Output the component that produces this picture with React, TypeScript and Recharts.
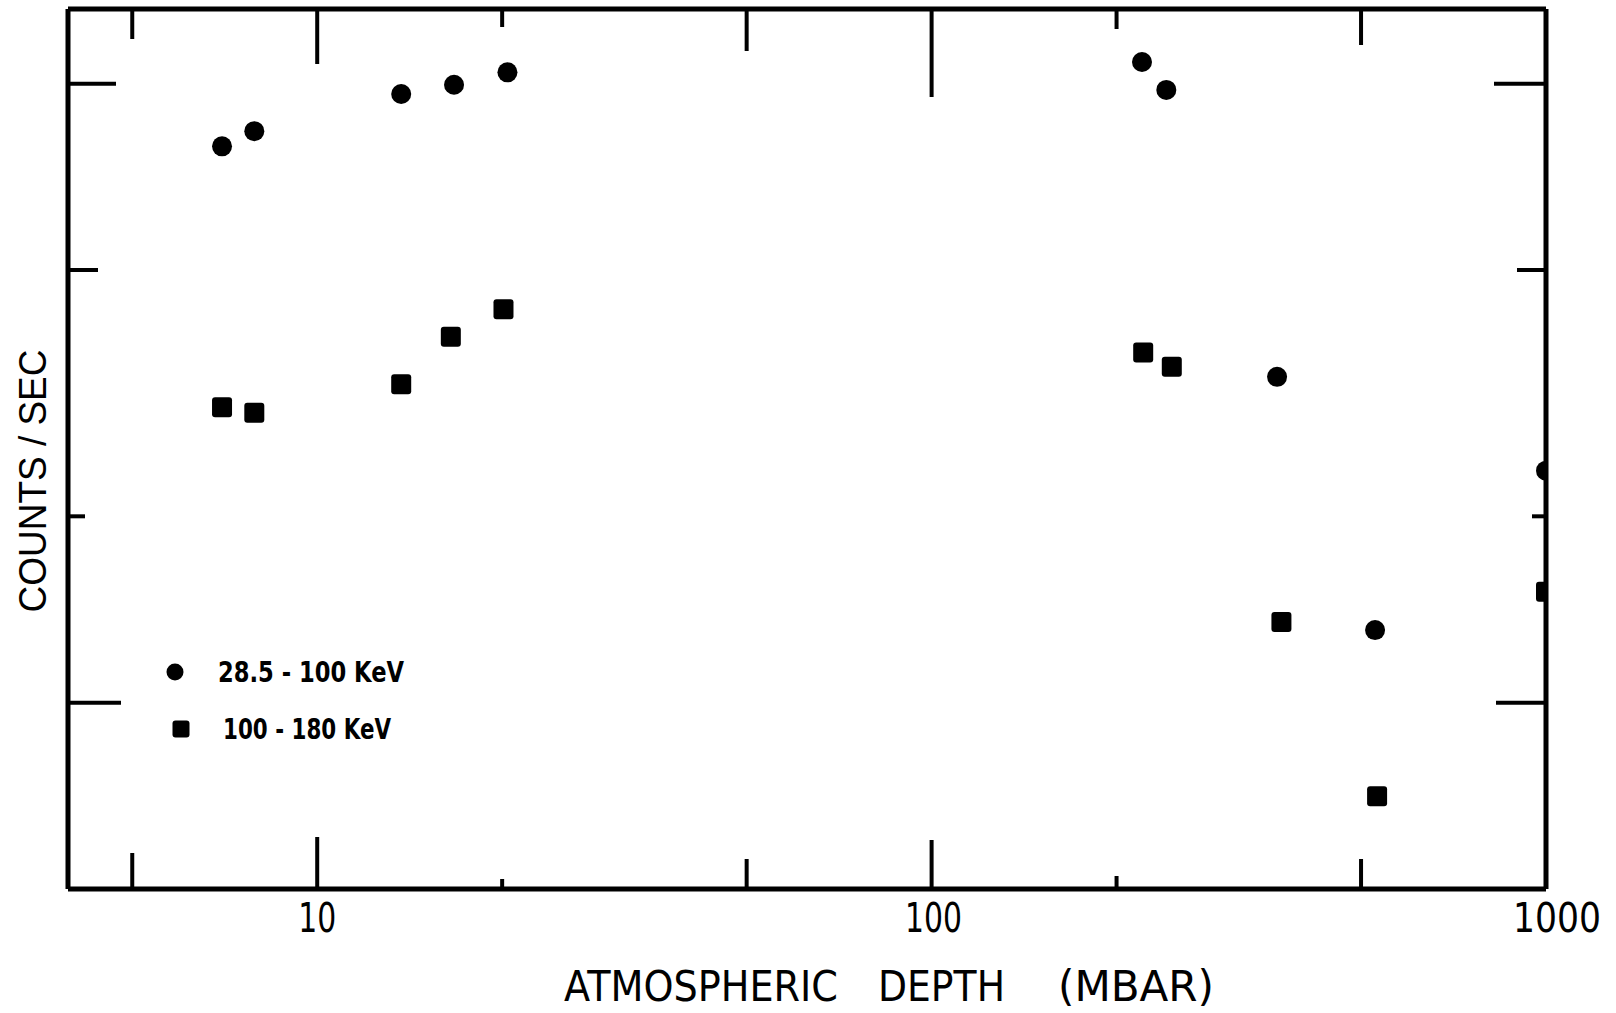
import React from 'react';
import { ScatterChart, Scatter, XAxis, YAxis, Legend } from 'recharts';

// ---- data ----
const LOW_BAND_DEPTH = [7.0, 7.9, 13.7, 16.7, 20.4, 220, 241, 365, 527, 1000];
const LOW_BAND_RATE = [79.2, 83.8, 96.2, 99.6, 104.3, 108.4, 97.7, 33.6, 13.1, 23.7];
const HIGH_BAND_DEPTH = [7.0, 7.9, 13.7, 16.5, 20.1, 221, 246, 371, 531, 1000];
const HIGH_BAND_RATE = [30.0, 29.4, 32.7, 39.0, 43.2, 36.8, 34.9, 13.5, 7.06, 15.1];
const SERIES_NAMES = ['28.5 - 100 KeV', '100 - 180 KeV'];
const X_TICKS = [5, 10, 20, 50, 100, 200, 500, 1000];
const X_TICK_LABELS: Record<number, string> = { 10: '10', 100: '100', 1000: '1000' };
const Y_TICKS = [10, 20, 50, 100];
const X_TITLE = ['ATMOSPHERIC', 'DEPTH', '(MBAR)'];
const Y_TITLE = 'COUNTS / SEC';

const X_DOMAIN: [number, number] = [3.93, 1000];
const Y_DOMAIN: [number, number] = [5, 132];

// ---- styling ----
const BOTTOM_LEN: Record<number, number> = { 5: 36, 10: 52, 20: 10, 50: 30, 100: 49, 200: 13, 500: 30 };
const TOP_LEN: Record<number, number> = { 5: 30, 10: 55, 20: 18, 50: 42, 100: 88, 200: 20, 500: 36 };
const LEFT_LEN: Record<number, number> = { 10: 53, 20: 17, 50: 30, 100: 48 };
const RIGHT_LEN: Record<number, number> = { 10: 50, 20: 14, 50: 29, 100: 52 };
const LABEL_WIDTH: Record<number, number> = { 10: 38, 100: 57, 1000: 88 };
const LABEL_DX: Record<number, number> = { 10: 0, 100: 2, 1000: 11 };

const lowData = LOW_BAND_DEPTH.map((d, i) => ({ depth: d, rate: LOW_BAND_RATE[i] }));
const highData = HIGH_BAND_DEPTH.map((d, i) => ({ depth: d, rate: HIGH_BAND_RATE[i] }));

const INK = '#000';
const TW = 4;

function BottomTick(props: any) {
  const { x, y, payload } = props;
  const v = payload.value;
  const len = BOTTOM_LEN[v] || 0;
  const lab = X_TICK_LABELS[v];
  return (
    <g>
      {len > 0 && <line x1={x} y1={y} x2={x} y2={y - len} stroke={INK} strokeWidth={TW} />}
      {lab && (
        <text
          x={x + (LABEL_DX[v] || 0)}
          y={y + 43}
          textAnchor="middle"
          fontFamily="DejaVu Sans"
          fontSize={40}
          fill={INK}
          textLength={LABEL_WIDTH[v]}
          lengthAdjust="spacingAndGlyphs"
        >
          {lab}
        </text>
      )}
    </g>
  );
}

function TopTick(props: any) {
  const { x, y, payload } = props;
  const len = TOP_LEN[payload.value] || 0;
  return <g>{len > 0 && <line x1={x} y1={y} x2={x} y2={y + len} stroke={INK} strokeWidth={TW} />}</g>;
}

function LeftTick(props: any) {
  const { x, y, payload } = props;
  const len = LEFT_LEN[payload.value] || 0;
  return <g>{len > 0 && <line x1={x} y1={y} x2={x + len} y2={y} stroke={INK} strokeWidth={TW} />}</g>;
}

function RightTick(props: any) {
  const { x, y, payload } = props;
  const len = RIGHT_LEN[payload.value] || 0;
  return <g>{len > 0 && <line x1={x} y1={y} x2={x - len} y2={y} stroke={INK} strokeWidth={TW} />}</g>;
}

const CircleMark = (p: any) => <circle cx={p.cx} cy={p.cy} r={10} fill={INK} />;
const SquareMark = (p: any) => (
  <rect x={p.cx - 10} y={p.cy - 10} width={20} height={20} rx={3} fill={INK} />
);

function XTitle() {
  const parts = [
    { x: 564, w: 274 },
    { x: 878, w: 127 },
    { x: 1058, w: 156 },
  ];
  return (
    <g>
      {X_TITLE.map((t, i) => (
        <text
          key={t}
          x={parts[i].x}
          y={1001}
          fontFamily="DejaVu Sans"
          fontSize={42}
          fill={INK}
          textLength={parts[i].w}
          lengthAdjust="spacingAndGlyphs"
        >
          {t}
        </text>
      ))}
    </g>
  );
}

function YTitle() {
  return (
    <text
      x={46}
      y={481}
      transform="rotate(-90, 46, 481)"
      textAnchor="middle"
      fontFamily="Liberation Sans"
      fontSize={39}
      fill={INK}
      textLength={263}
      lengthAdjust="spacingAndGlyphs"
    >
      {Y_TITLE}
    </text>
  );
}

function renderLegend(props: any) {
  const items = [...(props.payload || [])].sort(
    (a: any, b: any) => SERIES_NAMES.indexOf(a.value) - SERIES_NAMES.indexOf(b.value)
  );
  const rows = [
    { my: 32, tx: 68, ty: 42, tw: 186, mx: 25 },
    { my: 89, tx: 73, ty: 99, tw: 168, mx: 31 },
  ];
  return (
    <svg width={280} height={110} style={{ display: 'block', overflow: 'visible' }}>
      {items.map((it: any, i: number) => {
        const r = rows[i] || rows[0];
        return (
          <g key={i}>
            {it.type === 'square' ? (
              <rect x={r.mx - 8.5} y={r.my - 8.5} width={17} height={17} rx={3} fill={INK} />
            ) : (
              <circle cx={r.mx} cy={r.my} r={8.5} fill={INK} />
            )}
            <text
              x={r.tx}
              y={r.ty}
              fontFamily="DejaVu Sans"
              fontWeight="bold"
              fontSize={29}
              fill={INK}
              textLength={r.tw}
              lengthAdjust="spacingAndGlyphs"
            >
              {it.value}
            </text>
          </g>
        );
      })}
    </svg>
  );
}

const axisLineStyle = { stroke: INK, strokeWidth: 5 };

export default function App() {
  return (
    <div style={{ position: 'absolute', left: 0, top: 0, width: 1616, height: 1013, background: '#fff' }}>
      <ScatterChart width={1616} height={1013} margin={{ top: 8, right: 69, bottom: 123, left: 67 }}>
        <XAxis
          xAxisId="bottom"
          dataKey="depth"
          type="number"
          scale="log"
          domain={X_DOMAIN}
          allowDataOverflow
          ticks={X_TICKS}
          interval={0}
          height={1}
          tickSize={0}
          tickMargin={0}
          tickLine={false}
          axisLine={axisLineStyle}
          tick={BottomTick}
          label={<XTitle />}
        />
        <XAxis
          xAxisId="top"
          orientation="top"
          dataKey="depth"
          type="number"
          scale="log"
          domain={X_DOMAIN}
          allowDataOverflow
          ticks={X_TICKS}
          interval={0}
          height={1}
          tickSize={0}
          tickMargin={0}
          tickLine={false}
          axisLine={axisLineStyle}
          tick={TopTick}
        />
        <YAxis
          yAxisId="left"
          dataKey="rate"
          type="number"
          scale="log"
          domain={Y_DOMAIN}
          allowDataOverflow
          ticks={Y_TICKS}
          interval={0}
          width={1}
          tickSize={0}
          tickMargin={0}
          tickLine={false}
          axisLine={axisLineStyle}
          tick={LeftTick}
          label={<YTitle />}
        />
        <YAxis
          yAxisId="right"
          orientation="right"
          dataKey="rate"
          type="number"
          scale="log"
          domain={Y_DOMAIN}
          allowDataOverflow
          ticks={Y_TICKS}
          interval={0}
          width={1}
          tickSize={0}
          tickMargin={0}
          tickLine={false}
          axisLine={axisLineStyle}
          tick={RightTick}
        />
        <Legend
          layout="vertical"
          align="center"
          verticalAlign="middle"
          wrapperStyle={{ position: 'absolute', left: 150, top: 640, width: 280, height: 110 }}
          content={renderLegend}
        />
        <Scatter
          name={SERIES_NAMES[0]}
          data={lowData}
          xAxisId="bottom"
          yAxisId="left"
          fill={INK}
          legendType="circle"
          shape={CircleMark}
          isAnimationActive={false}
        />
        <Scatter
          name={SERIES_NAMES[1]}
          data={highData}
          xAxisId="bottom"
          yAxisId="left"
          fill={INK}
          legendType="square"
          shape={SquareMark}
          isAnimationActive={false}
        />
      </ScatterChart>
    </div>
  );
}
